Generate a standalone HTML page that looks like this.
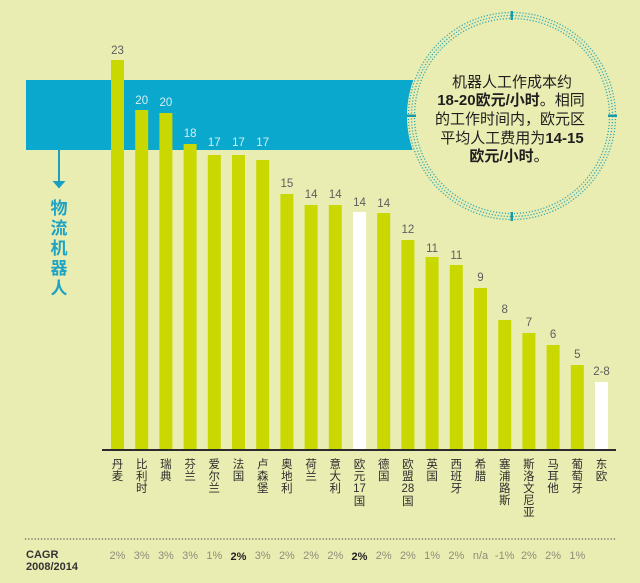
<!DOCTYPE html>
<html><head><meta charset="utf-8">
<style>
html,body{margin:0;padding:0;background:#eaedb2;}
svg{display:block;}
text{font-family:"Liberation Sans","Noto Sans CJK SC",sans-serif;}
</style></head>
<body>
<svg width="640" height="583" viewBox="0 0 640 583" xmlns="http://www.w3.org/2000/svg">
<rect x="0" y="0" width="640" height="583" fill="#eaedb2"/>
<!-- blue band -->
<rect x="26" y="80" width="400" height="70" fill="#0aa8cc"/>
<!-- circle -->
<circle cx="512" cy="116" r="105" fill="#eaedb2"/>
<g fill="none" stroke="#34aab2" stroke-width="1.3" stroke-dasharray="1.2 1.8">
<circle cx="512" cy="116" r="103.5"/>
<circle cx="512" cy="116" r="100.5"/>
<circle cx="512" cy="116" r="97.5"/>
</g>
<g fill="#1a9aa6">
<rect x="510.5" y="11" width="2.5" height="9"/>
<rect x="510.5" y="212" width="2.5" height="9"/>
<rect x="407" y="114.5" width="9" height="2.5"/>
<rect x="608" y="114.5" width="9" height="2.5"/>
</g>
<g font-size="15" fill="#1e1e1e" text-anchor="middle">
<text x="512" y="87">机器人工作成本约</text>
<text x="511" y="105"><tspan font-weight="bold">18-20欧元/小时</tspan>。相同</text>
<text x="510" y="124">的工作时间内，欧元区</text>
<text x="512" y="143">平均人工费用为<tspan font-weight="bold">14-15</tspan></text>
<text x="509" y="161"><tspan font-weight="bold">欧元/小时</tspan>。</text>
</g>
<!-- arrow and left label -->
<line x1="59" y1="150" x2="59" y2="183" stroke="#1a9fc0" stroke-width="2"/>
<polygon points="52.5,181 65.5,181 59,188.5" fill="#1a9fc0"/>
<g font-size="17" font-weight="bold" fill="#1fa3c4" text-anchor="middle">
<text x="59" y="214">物</text>
<text x="59" y="234">流</text>
<text x="59" y="254">机</text>
<text x="59" y="274">器</text>
<text x="59" y="294">人</text>
</g>
<!-- bars -->
<g fill="#c8d800">
<rect x="111" y="60" width="13" height="390"/>
<rect x="135.2" y="110" width="13" height="340"/>
<rect x="159.4" y="113" width="13" height="337"/>
<rect x="183.6" y="144" width="13" height="306"/>
<rect x="207.8" y="155" width="13" height="295"/>
<rect x="232" y="155" width="13" height="295"/>
<rect x="256.2" y="160" width="13" height="290"/>
<rect x="280.4" y="194" width="13" height="256"/>
<rect x="304.6" y="205" width="13" height="245"/>
<rect x="328.8" y="205" width="13" height="245"/>
<rect x="353" y="212" width="13" height="238" fill="#ffffff"/>
<rect x="377.2" y="213" width="13" height="237"/>
<rect x="401.4" y="240" width="13" height="210"/>
<rect x="425.6" y="257" width="13" height="193"/>
<rect x="449.8" y="265" width="13" height="185"/>
<rect x="474" y="288" width="13" height="162"/>
<rect x="498.2" y="320" width="13" height="130"/>
<rect x="522.4" y="333" width="13" height="117"/>
<rect x="546.6" y="345" width="13" height="105"/>
<rect x="570.8" y="365" width="13" height="85"/>
<rect x="595" y="382" width="13" height="68" fill="#ffffff"/>
</g>
<!-- value labels -->
<g font-size="11.5" fill="#5e5e5e" text-anchor="middle">
<text x="117.5" y="54">23</text>
<text x="141.7" y="104" fill="#d6eef4">20</text>
<text x="165.9" y="106" fill="#d6eef4">20</text>
<text x="190.1" y="137" fill="#d6eef4">18</text>
<text x="214.3" y="146" fill="#d6eef4">17</text>
<text x="238.5" y="146" fill="#d6eef4">17</text>
<text x="262.7" y="146" fill="#d6eef4">17</text>
<text x="286.9" y="187">15</text>
<text x="311.1" y="198">14</text>
<text x="335.3" y="198">14</text>
<text x="359.5" y="206">14</text>
<text x="383.7" y="207">14</text>
<text x="407.9" y="233">12</text>
<text x="432.1" y="252">11</text>
<text x="456.3" y="259">11</text>
<text x="480.5" y="281">9</text>
<text x="504.7" y="313">8</text>
<text x="528.9" y="326">7</text>
<text x="553.1" y="338">6</text>
<text x="577.3" y="358">5</text>
<text x="601.5" y="375">2-8</text>
</g>
<!-- axis -->
<line x1="102" y1="450" x2="616" y2="450" stroke="#2b2b2b" stroke-width="2"/>
<!-- x labels -->
<g font-size="11.5" fill="#2e2e2e" text-anchor="middle">
<text x="117.5" y="468">丹</text><text x="117.5" y="480">麦</text>
<text x="141.7" y="468">比</text><text x="141.7" y="480">利</text><text x="141.7" y="492">时</text>
<text x="165.9" y="468">瑞</text><text x="165.9" y="480">典</text>
<text x="190.1" y="468">芬</text><text x="190.1" y="480">兰</text>
<text x="214.3" y="468">爱</text><text x="214.3" y="480">尔</text><text x="214.3" y="492">兰</text>
<text x="238.5" y="468">法</text><text x="238.5" y="480">国</text>
<text x="262.7" y="468">卢</text><text x="262.7" y="480">森</text><text x="262.7" y="492">堡</text>
<text x="286.9" y="468">奥</text><text x="286.9" y="480">地</text><text x="286.9" y="492">利</text>
<text x="311.1" y="468">荷</text><text x="311.1" y="480">兰</text>
<text x="335.3" y="468">意</text><text x="335.3" y="480">大</text><text x="335.3" y="492">利</text>
<text x="359.5" y="468">欧</text><text x="359.5" y="480">元</text><text x="359.5" y="492">17</text><text x="359.5" y="505">国</text>
<text x="383.7" y="468">德</text><text x="383.7" y="480">国</text>
<text x="407.9" y="468">欧</text><text x="407.9" y="480">盟</text><text x="407.9" y="492">28</text><text x="407.9" y="505">国</text>
<text x="432.1" y="468">英</text><text x="432.1" y="480">国</text>
<text x="456.3" y="468">西</text><text x="456.3" y="480">班</text><text x="456.3" y="492">牙</text>
<text x="480.5" y="468">希</text><text x="480.5" y="480">腊</text>
<text x="504.7" y="468">塞</text><text x="504.7" y="480">浦</text><text x="504.7" y="492">路</text><text x="504.7" y="504">斯</text>
<text x="528.9" y="468">斯</text><text x="528.9" y="480">洛</text><text x="528.9" y="492">文</text><text x="528.9" y="504">尼</text><text x="528.9" y="516">亚</text>
<text x="553.1" y="468">马</text><text x="553.1" y="480">耳</text><text x="553.1" y="492">他</text>
<text x="577.3" y="468">葡</text><text x="577.3" y="480">萄</text><text x="577.3" y="492">牙</text>
<text x="601.5" y="468">东</text><text x="601.5" y="480">欧</text>
</g>
<!-- CAGR row -->
<line x1="25" y1="539" x2="616" y2="539" stroke="#555" stroke-width="1.2" stroke-dasharray="1.2 2"/>
<g font-size="11" font-weight="bold" fill="#333">
<text x="26" y="558">CAGR</text>
<text x="26" y="570">2008/2014</text>
</g>
<g font-size="11" fill="#8d8d7a" text-anchor="middle">
<text x="117.5" y="559">2%</text>
<text x="141.7" y="559">3%</text>
<text x="165.9" y="559">3%</text>
<text x="190.1" y="559">3%</text>
<text x="214.3" y="559">1%</text>
<text x="238.5" y="560" font-weight="bold" fill="#222">2%</text>
<text x="262.7" y="559">3%</text>
<text x="286.9" y="559">2%</text>
<text x="311.1" y="559">2%</text>
<text x="335.3" y="559">2%</text>
<text x="359.5" y="560" font-weight="bold" fill="#222">2%</text>
<text x="383.7" y="559">2%</text>
<text x="407.9" y="559">2%</text>
<text x="432.1" y="559">1%</text>
<text x="456.3" y="559">2%</text>
<text x="480.5" y="559">n/a</text>
<text x="504.7" y="559">-1%</text>
<text x="528.9" y="559">2%</text>
<text x="553.1" y="559">2%</text>
<text x="577.3" y="559">1%</text>
</g>
</svg>
</body></html>
